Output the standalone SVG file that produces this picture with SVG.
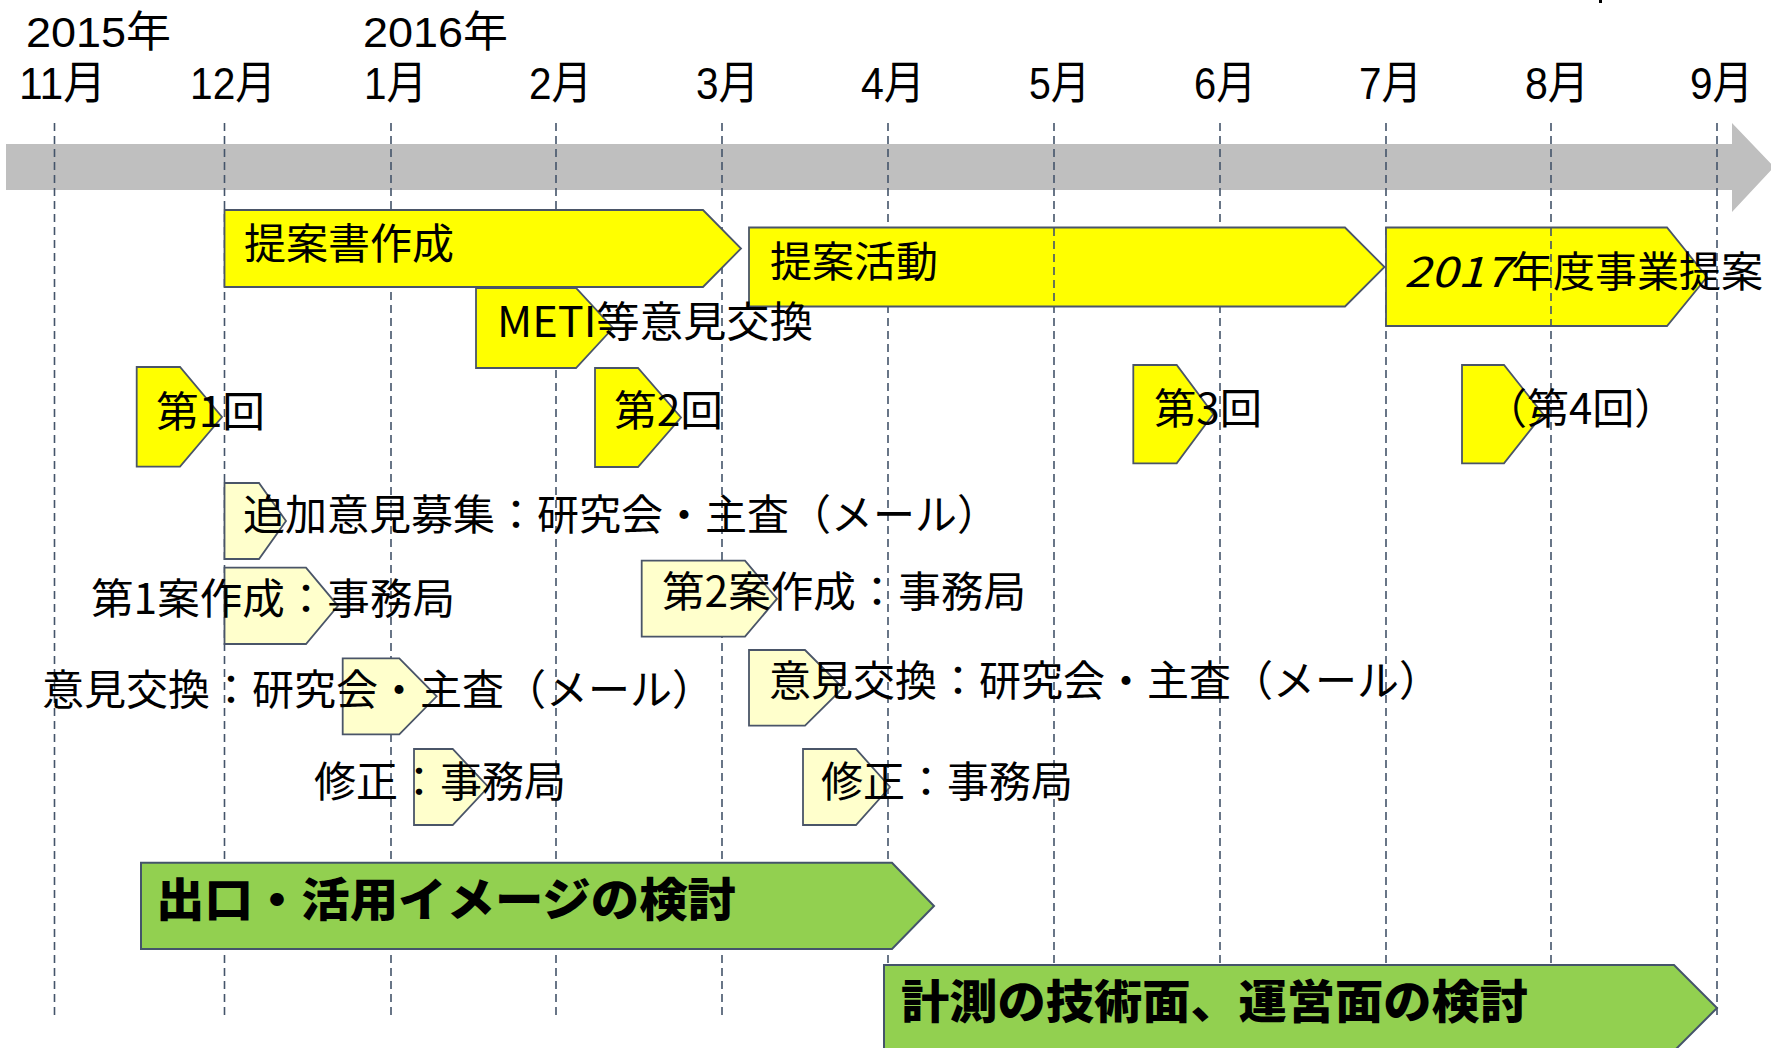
<svg xmlns="http://www.w3.org/2000/svg" width="1771" height="1048" viewBox="0 0 1771 1048">
<style>
  text { font-family: "Noto Sans CJK JP", "Noto Sans", sans-serif; font-size: 42px; fill: #000; }
  .yr { font-family: "Liberation Sans Narrow", "Liberation Sans", "Noto Sans CJK JP", sans-serif; font-size: 43px; }
  .mo { font-family: "Liberation Sans Narrow", "Liberation Sans", "Noto Sans CJK JP", sans-serif; font-size: 45px; }
  .bold { font-weight: 900; font-size: 46px; }
  .grid { stroke: #44546A; stroke-width: 1.6; stroke-dasharray: 8 5; fill: none; }
  .y { fill: #FFFF00; stroke: #4A5568; stroke-width: 1.8; }
  .ly { fill: #FFFFCC; stroke: #4A5568; stroke-width: 1.8; }
  .g { fill: #92D050; stroke: #44546A; stroke-width: 2; }
</style>
<rect width="1771" height="1048" fill="#FFFFFF"/>
<rect x="1599" y="0" width="3" height="3" fill="#000"/>

<g id="timeline-axis">
  <polygon points="6,144 1732,144 1732,123 1774,167 1732,212 1732,190 6,190" fill="#BFBFBF"/>
</g>

<g id="header-labels">
  <text class="yr" x="26" y="47" textLength="145" lengthAdjust="spacingAndGlyphs">2015年</text>
  <text class="yr" x="363" y="47" textLength="145" lengthAdjust="spacingAndGlyphs">2016年</text>
  <text class="mo" x="19" y="99" textLength="87" lengthAdjust="spacingAndGlyphs">11月</text>
  <text class="mo" x="190" y="99" textLength="86" lengthAdjust="spacingAndGlyphs">12月</text>
  <text class="mo" x="364" y="99" textLength="63" lengthAdjust="spacingAndGlyphs">1月</text>
  <text class="mo" x="529" y="99" textLength="63" lengthAdjust="spacingAndGlyphs">2月</text>
  <text class="mo" x="696" y="99" textLength="63" lengthAdjust="spacingAndGlyphs">3月</text>
  <text class="mo" x="861" y="99" textLength="64" lengthAdjust="spacingAndGlyphs">4月</text>
  <text class="mo" x="1029" y="99" textLength="61" lengthAdjust="spacingAndGlyphs">5月</text>
  <text class="mo" x="1194" y="99" textLength="62" lengthAdjust="spacingAndGlyphs">6月</text>
  <text class="mo" x="1359" y="99" textLength="63" lengthAdjust="spacingAndGlyphs">7月</text>
  <text class="mo" x="1525" y="99" textLength="64" lengthAdjust="spacingAndGlyphs">8月</text>
  <text class="mo" x="1690" y="99" textLength="63" lengthAdjust="spacingAndGlyphs">9月</text>
</g>

<g id="gridlines" class="grid">
  <line x1="54.5" y1="123" x2="54.5" y2="1018"/>
  <line x1="224.5" y1="123" x2="224.5" y2="1018"/>
  <line x1="391" y1="123" x2="391" y2="1018"/>
  <line x1="556" y1="123" x2="556" y2="1018"/>
  <line x1="722" y1="123" x2="722" y2="1018"/>
  <line x1="888" y1="123" x2="888" y2="1018"/>
  <line x1="1054" y1="123" x2="1054" y2="1018"/>
  <line x1="1220" y1="123" x2="1220" y2="1018"/>
  <line x1="1386" y1="123" x2="1386" y2="1018"/>
  <line x1="1551" y1="123" x2="1551" y2="1018"/>
  <line x1="1717" y1="123" x2="1717" y2="1018"/>
</g>

<g id="node-teian-sho">
  <polygon class="y" points="224.5,210 703,210 741,248.5 703,287 224.5,287"/>
  <text x="244" y="259">提案書作成</text>
</g>
<g id="node-teian-katsudo">
  <polygon class="y" points="749,227.5 1345,227.5 1384.5,267 1345,306.5 749,306.5"/>
  <text x="770" y="277">提案活動</text>
</g>
<g id="node-2017">
  <polygon class="y" points="1386,227.5 1667,227.5 1707,277 1667,326 1386,326"/>
</g>
<g id="gridline-overlays" class="grid">
  <line x1="1054" y1="228" x2="1054" y2="306"/>
  <line x1="1551" y1="228" x2="1551" y2="326"/>
</g>
<g id="node-2017-label">
  <text x="1404" y="287" font-style="italic" textLength="107" lengthAdjust="spacingAndGlyphs">2017</text>
  <text x="1511" y="287">年度事業提案</text>
</g>
<g id="node-meti">
  <polygon class="y" points="476,288 576,288 613,328 576,368 476,368"/>
  <text x="497" y="337" textLength="316" lengthAdjust="spacingAndGlyphs">METI等意見交換</text>
</g>
<g id="node-dai1">
  <polygon class="y" points="136.7,367 180,367 222,417 180,466.7 136.7,466.7"/>
  <text x="156" y="427" textLength="109" lengthAdjust="spacingAndGlyphs">第1回</text>
</g>
<g id="node-dai2">
  <polygon class="y" points="595,368 638,368 681,417.5 638,467 595,467"/>
  <text x="614" y="426" textLength="109" lengthAdjust="spacingAndGlyphs">第2回</text>
</g>
<g id="node-dai3">
  <polygon class="y" points="1133.3,365 1176.7,365 1213.3,414 1176.7,463.3 1133.3,463.3"/>
  <text x="1154" y="424" textLength="108" lengthAdjust="spacingAndGlyphs">第3回</text>
</g>
<g id="node-dai4">
  <polygon class="y" points="1462,365 1504,365 1543,414 1504,463.3 1462,463.3"/>
  <text x="1485" y="424">（第4回）</text>
</g>

<g id="node-tsuika">
  <polygon class="ly" points="224.5,483 259,483 286,521 259,559 224.5,559"/>
  <text x="243" y="530">追加意見募集：研究会・主査（メール）</text>
</g>
<g id="node-an1">
  <polygon class="ly" points="224.5,567.7 306,567.7 338,605.8 306,644 224.5,644"/>
  <text x="91" y="614" textLength="364" lengthAdjust="spacingAndGlyphs">第1案作成：事務局</text>
</g>
<g id="node-an2">
  <polygon class="ly" points="641.7,560.7 745,560.7 777,598.7 745,636.7 641.7,636.7"/>
  <text x="662" y="607" textLength="364" lengthAdjust="spacingAndGlyphs">第2案作成：事務局</text>
</g>
<g id="node-iken1">
  <polygon class="ly" points="342.7,658.3 399.3,658.3 436.7,696.3 399.3,734.3 342.7,734.3"/>
  <text x="42" y="705">意見交換：研究会・主査（メール）</text>
</g>
<g id="node-iken2">
  <polygon class="ly" points="749,650 805,650 843,688 805,725.7 749,725.7"/>
  <text x="769" y="696">意見交換：研究会・主査（メール）</text>
</g>
<g id="node-shusei1">
  <polygon class="ly" points="414,749 452.7,749 488.3,787 452.7,825 414,825"/>
  <text x="314" y="797">修正：事務局</text>
</g>
<g id="node-shusei2">
  <polygon class="ly" points="803,749 856,749 890,787 856,825 803,825"/>
  <text x="821" y="797">修正：事務局</text>
</g>

<g id="node-deguchi">
  <polygon class="g" points="141,862.7 892,862.7 934,906 892,949 141,949"/>
  <text class="bold" x="156" y="916" textLength="580" lengthAdjust="spacingAndGlyphs">出口・活用イメージの検討</text>
</g>
<g id="node-keisoku">
  <polygon class="g" points="884,965 1674,965 1717,1008 1674,1051 884,1051"/>
  <text class="bold" x="901" y="1018" textLength="627" lengthAdjust="spacingAndGlyphs">計測の技術面、運営面の検討</text>
</g>
</svg>
